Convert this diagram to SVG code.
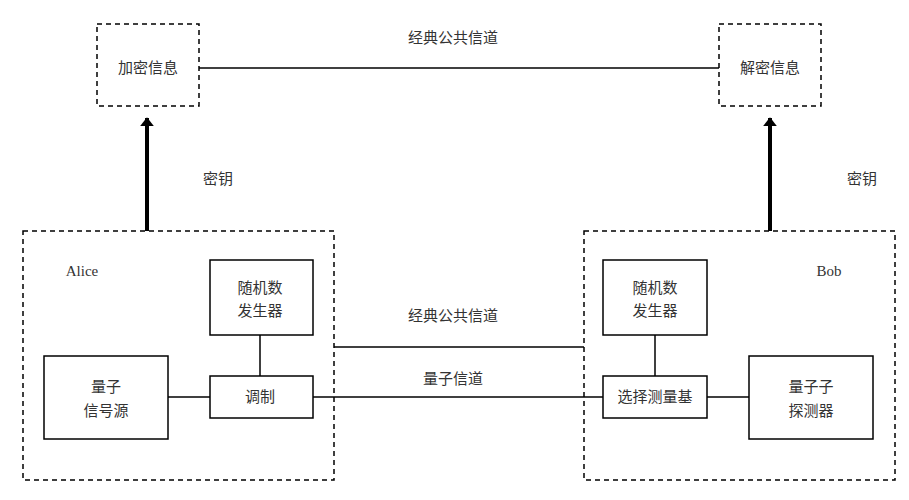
<svg xmlns="http://www.w3.org/2000/svg" width="909" height="500" viewBox="0 0 909 500">
<style>
text{font-family:"Liberation Serif","Noto Sans CJK SC",serif;font-size:15px;fill:#333;text-anchor:middle}
.d{fill:none;stroke:#000;stroke-width:1.5;stroke-dasharray:5,4}
.b{fill:#fff;stroke:#000;stroke-width:1.5}
.l{stroke:#000;stroke-width:1.5;fill:none}
.t{stroke:#000;stroke-width:4;fill:none}
</style>
<defs><marker id="a" markerWidth="4" markerHeight="4" refX="2" refY="2" orient="auto" markerUnits="strokeWidth"><path d="M0,0.3 L2.2,2 L0,3.7Z" fill="#000"/></marker></defs>
<g id="connectors">
<path class="l" d="M199 68H719"/>
<path class="t" d="M147 231V118" marker-end="url(#a)"/>
<path class="t" d="M770 231V118" marker-end="url(#a)"/>
<path class="l" d="M334 347H584"/>
<path class="l" d="M313 397H603"/>
<path class="l" d="M168 397H210"/>
<path class="l" d="M260 335V376"/>
<path class="l" d="M655 335V376"/>
<path class="l" d="M707 397H749"/>
</g>
<g id="enc"><rect class="d" x="97" y="24" width="102" height="82"/><text x="148" y="73">加密信息</text></g>
<g id="dec"><rect class="d" x="719" y="24" width="102" height="82"/><text x="770" y="73">解密信息</text></g>
<text x="453" y="43">经典公共信道</text>
<text x="218" y="184">密钥</text>
<text x="862" y="184">密钥</text>
<text x="453" y="321">经典公共信道</text>
<text x="453" y="384">量子信道</text>
<g id="alice"><rect class="d" x="23" y="231" width="311" height="249"/><text x="82" y="276">Alice</text></g>
<g id="bob"><rect class="d" x="584" y="231" width="311" height="249"/><text x="829" y="276">Bob</text></g>
<g id="arng"><rect class="b" x="210" y="260" width="103" height="75"/><text x="260" y="293">随机数</text><text x="260" y="316">发生器</text></g>
<g id="src"><rect class="b" x="44" y="356" width="124" height="83"/><text x="106" y="392">量子</text><text x="106" y="416">信号源</text></g>
<g id="mod"><rect class="b" x="210" y="376" width="103" height="42"/><text x="260" y="402">调制</text></g>
<g id="brng"><rect class="b" x="603" y="260" width="104" height="75"/><text x="655" y="293">随机数</text><text x="655" y="316">发生器</text></g>
<g id="basis"><rect class="b" x="603" y="376" width="104" height="42"/><text x="655" y="402">选择测量基</text></g>
<g id="det"><rect class="b" x="749" y="356" width="124" height="83"/><text x="811" y="392">量子子</text><text x="811" y="416">探测器</text></g>
</svg>
